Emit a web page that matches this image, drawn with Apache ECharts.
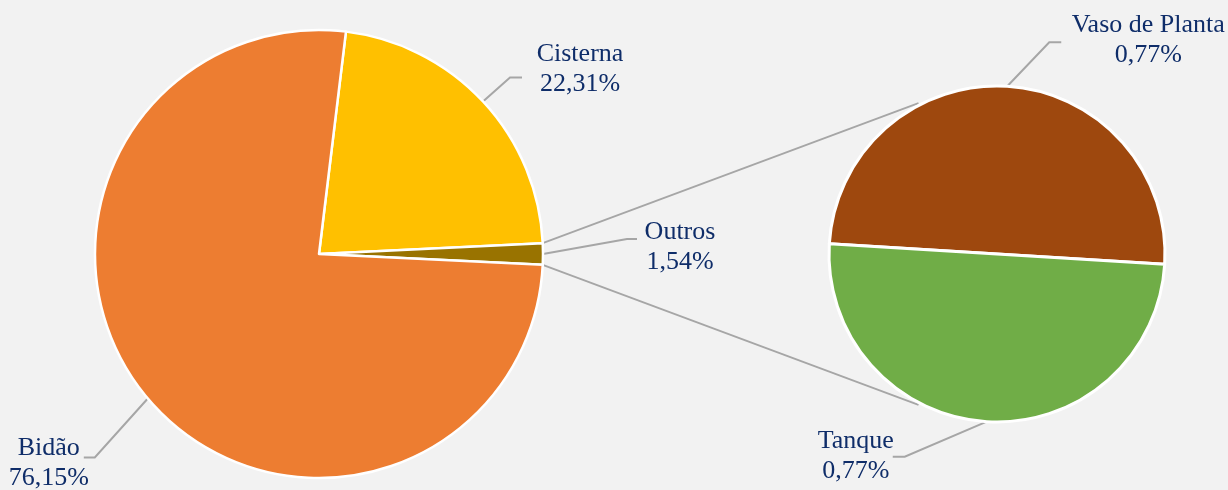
<!DOCTYPE html>
<html>
<head>
<meta charset="utf-8">
<script src="https://cdn.jsdelivr.net/npm/echarts@6/dist/echarts.min.js"></script>
<style>
  html, body { margin: 0; padding: 0; background: #F2F2F2; }
  #chart { width: 1228px; height: 490px; }
</style>
</head>
<body>
<div id="chart"></div>
<script>
// ==============================================================
// data
// ==============================================================
var mainNames = ['Cisterna', 'Outros', 'Bidão'];
var mainValues = [22.31, 1.54, 76.15];
var subNames = ['Vaso de Planta', 'Tanque'];
var subValues = [0.77, 0.77];

// ==============================================================
// layout / style
// ==============================================================
var mainColors = ['#FFC000', '#997300', '#ED7D31'];
var subColors = ['#9E480E', '#70AD47'];
var textColor = '#0F2D69';
var lineColor = '#A6A6A6';

var mainCenter = [319, 254], mainR = 224;
var subCenter = [997, 254], subR = 168;

// label guide: elbow offset from anchor, horizontal run, label centre offset from line end
var guides = [
    [
        { ex: 27, ey: -24, run: 12, lx: 58, ly: -8 },   // Cisterna
        { ex: 84, ey: -15, run: 10, lx: 43, ly: 8 },    // Outros
        { ex: -53, ey: 59, run: -11, lx: -35, ly: 6 }   // Bidão
    ],
    [
        { ex: 42, ey: -44, run: 12, lx: 87, ly: -2 },   // Vaso de Planta
        { ex: -82, ey: 35, run: -12, lx: -37, ly: -1 }  // Tanque
    ]
];

var mainTotal = mainValues.reduce(function (a, b) { return a + b; }, 0);
var cistDeg = mainValues[0] / mainTotal * 360;
var outDeg = mainValues[1] / mainTotal * 360;
// Outros centred at 3 o'clock
var mainStart = cistDeg + outDeg / 2;
var subStart = 176.5;

function fmt(v) {
    return v.toFixed(2).replace('.', ',') + '%';
}

function edgePoint(c, r, deg) {
    var a = deg * Math.PI / 180;
    return [c[0] + r * Math.cos(a), c[1] - r * Math.sin(a)];
}

// connector lines between the two pies
var outTop = edgePoint(mainCenter, mainR, outDeg / 2);
var outBot = edgePoint(mainCenter, mainR, -outDeg / 2);
var subTop = edgePoint(subCenter, subR + 2, 117.5);
var subBot = edgePoint(subCenter, subR + 2, -117.5);

function toData(names, values, colors) {
    return names.map(function (n, i) {
        return { name: n, value: values[i], itemStyle: { color: colors[i] } };
    });
}

var labelStyle = {
    show: true,
    position: 'outside',
    formatter: function (p) { return p.name + '\n' + fmt(p.value); },
    fontFamily: '"Liberation Serif", "DejaVu Serif", serif',
    fontSize: 26,
    lineHeight: 30,
    color: textColor
};
var labelLineStyle = {
    show: true,
    length: 20,
    length2: 10,
    lineStyle: { color: lineColor, width: 2 }
};

function layoutLabel(p) {
    var g = guides[p.seriesIndex][p.dataIndex];
    var a = p.labelLinePoints ? p.labelLinePoints[0] : [p.rect.x, p.rect.y];
    var elbow = [a[0] + g.ex, a[1] + g.ey];
    var end = [elbow[0] + g.run, elbow[1]];
    return {
        x: end[0] + g.lx,
        y: end[1] + g.ly,
        align: 'center',
        verticalAlign: 'middle',
        labelLinePoints: [a, elbow, end]
    };
}

var dom = document.getElementById('chart');
var myChart = echarts.init(dom);
var option = {
    backgroundColor: '#F2F2F2',
    animation: false,
    graphic: [
        {
            type: 'line', z: 0,
            shape: { x1: outTop[0], y1: outTop[1], x2: subTop[0], y2: subTop[1] },
            style: { stroke: lineColor, lineWidth: 1.8 }
        },
        {
            type: 'line', z: 0,
            shape: { x1: outBot[0], y1: outBot[1], x2: subBot[0], y2: subBot[1] },
            style: { stroke: lineColor, lineWidth: 1.8 }
        }
    ],
    series: [
        {
            name: 'main',
            type: 'pie',
            center: mainCenter,
            radius: mainR,
            startAngle: mainStart,
            clockwise: true,
            avoidLabelOverlap: false,
            silent: true,
            itemStyle: { borderColor: '#FFFFFF', borderWidth: 2.5 },
            label: labelStyle,
            labelLine: labelLineStyle,
            labelLayout: layoutLabel,
            data: toData(mainNames, mainValues, mainColors)
        },
        {
            name: 'sub',
            type: 'pie',
            center: subCenter,
            radius: subR,
            startAngle: subStart,
            clockwise: true,
            avoidLabelOverlap: false,
            silent: true,
            itemStyle: { borderColor: '#FFFFFF', borderWidth: 3 },
            label: labelStyle,
            labelLine: labelLineStyle,
            labelLayout: layoutLabel,
            data: toData(subNames, subValues, subColors)
        }
    ]
};
myChart.setOption(option);
</script>
</body>
</html>
